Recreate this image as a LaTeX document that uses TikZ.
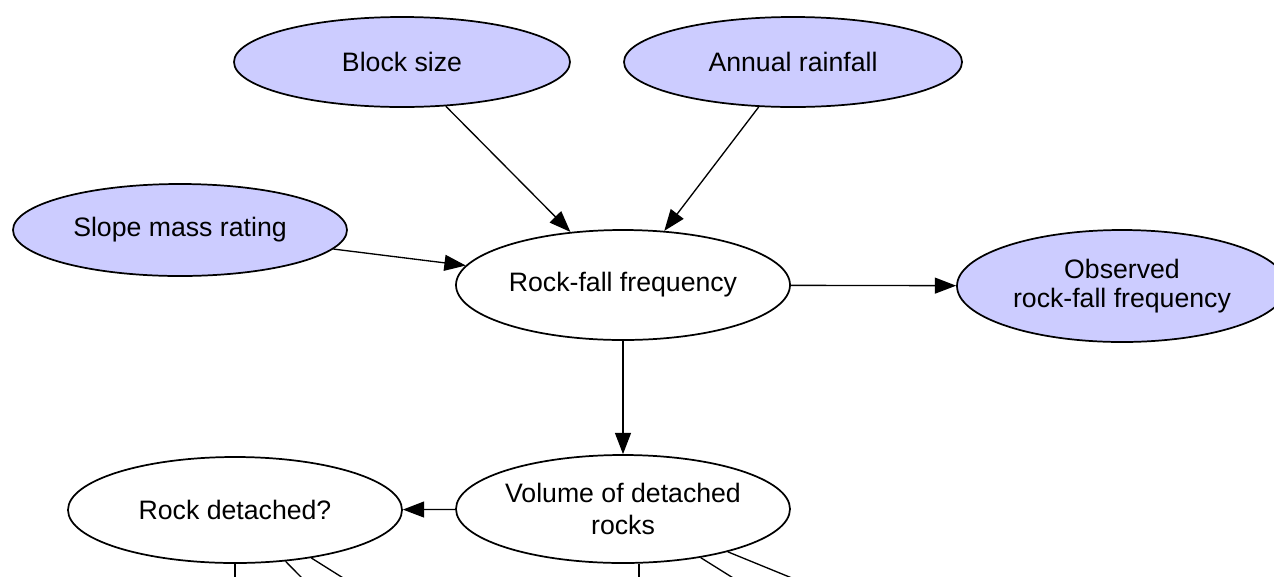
\documentclass[tikz,border=0pt]{standalone}
\usepackage{fontspec}
\setmainfont{Liberation Sans}
\usetikzlibrary{shapes.geometric,arrows.meta}
\definecolor{evidence}{RGB}{204,204,255}
\tikzset{
  var/.style={ellipse, draw=black, line width=1.3pt, inner sep=0pt, align=center,
    font=\fontsize{20}{22}\selectfont, text=black},
  obs/.style={var, fill=evidence},
  hid/.style={var, fill=white},
  link/.style={draw=black, line width=1pt},
  arc/.style={link, -{Triangle[length=16pt,width=12pt]}}
}
\begin{document}
\begin{tikzpicture}[x=0.75pt, y=-0.75pt]
  \useasboundingbox (0,0) rectangle (1274,576);
  \clip (0,0) rectangle (1274,576);

  % parent variables
  \node[obs, minimum width=252pt,   minimum height=67.5pt] (block) at (402,62) {Block size};
  \node[obs, minimum width=253.5pt, minimum height=67.5pt] (rain)  at (793,62) {Annual rainfall};
  \node[obs, minimum width=250.5pt, minimum height=69pt]   (smr)   at (180,230) {Slope mass rating};

  % central chain
  \node[hid, minimum width=250.5pt, minimum height=82.5pt] (freq) at (623,285) {Rock-fall frequency};
  \node[obs, minimum width=247.5pt, minimum height=84pt]   (ofreq) at (1122,286) {Observed\\rock-fall frequency};
  \node[hid, minimum width=250.5pt, minimum height=81pt, font=\fontsize{20}{24}\selectfont] (vol) at (623,509) {Volume of detached\\rocks};
  \node[hid, minimum width=250.5pt, minimum height=79.5pt] (det) at (235,510) {Rock detached?};

  % ends of the links leaving the lower nodes
  \coordinate (detA) at (235,640);
  \coordinate (detB) at (365,642);
  \coordinate (detC) at (445,642);
  \coordinate (volA) at (639,640);
  \coordinate (volB) at (837,643);
  \coordinate (volC) at (951,643);

  % arcs
  \draw[arc] (block) -- (freq);
  \draw[arc] (rain) -- (freq);
  \draw[arc] (smr) -- (freq);
  \draw[arc] (freq) -- (ofreq);
  \draw[arc] (freq) -- (vol);
  \draw[arc] (vol) -- (det);

  \draw[link] (det) -- (detA);
  \draw[link] (det) -- (detB);
  \draw[link] (det) -- (detC);
  \draw[link] (vol.south -| volA) -- (volA);
  \draw[link] (vol) -- (volB);
  \draw[link] (vol) -- (volC);
\end{tikzpicture}
\end{document}
